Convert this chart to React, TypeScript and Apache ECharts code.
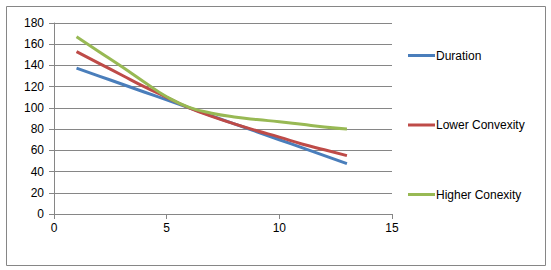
import React, { useEffect, useRef } from "react";
import * as echarts from "echarts";

const xValues = [1, 2, 3, 4, 5, 6, 7, 8, 9, 10, 11, 12, 13];
const duration = [137.5, 130, 122.5, 115, 107.5, 100, 92.5, 85, 77.5, 70, 62.5, 55, 47.5];
const lowerConvexity = [153, 142, 131, 120, 110, 100, 92, 85, 78.5, 72.5, 66, 60.5, 55];
const higherConexity = [167, 153, 139, 124.5, 110.5, 100.5, 95, 91.5, 89, 87, 84.5, 82, 80];
const seriesNames = ["Duration", "Lower Convexity", "Higher Conexity"];
const seriesColors = ["#4A7EBB", "#BE4B48", "#98B954"];

const FONT = "'Liberation Sans', Arial, sans-serif";

export default function App() {
  const ref = useRef<HTMLDivElement>(null);
  useEffect(() => {
    if (!ref.current) return;
    const chart = echarts.init(ref.current, undefined, { renderer: "svg" });
    const datasets = [duration, lowerConvexity, higherConexity];
    chart.setOption({
      animation: false,
      backgroundColor: "#ffffff",
      graphic: [
        {
          type: "rect",
          shape: { x: 6.5, y: 6.5, width: 539, height: 259 },
          style: { fill: "none", stroke: "#868686", lineWidth: 1 },
          silent: true,
        },
      ],
      grid: { left: 54, right: 159, top: 23, bottom: 56, containLabel: false },
      xAxis: {
        type: "value",
        min: 0,
        max: 15,
        interval: 5,
        axisLine: { show: true, lineStyle: { color: "#868686", width: 1 } },
        axisTick: { show: true, inside: false, length: 5, lineStyle: { color: "#868686" } },
        splitLine: { show: false },
        axisLabel: { color: "#000", fontFamily: FONT, fontSize: 12, margin: 8 },
      },
      yAxis: {
        type: "value",
        min: 0,
        max: 180,
        interval: 20,
        axisLine: { show: true, lineStyle: { color: "#868686", width: 1 } },
        axisTick: { show: true, inside: false, length: 5, lineStyle: { color: "#868686" } },
        splitLine: { show: true, lineStyle: { color: "#868686", width: 1 } },
        axisLabel: { color: "#000", fontFamily: FONT, fontSize: 12, margin: 10 },
      },
      legend: {
        orient: "vertical",
        left: 408,
        top: 49.5,
        padding: 0,
        itemWidth: 27,
        itemHeight: 3,
        itemGap: 57.5,
        icon: "rect",
        textStyle: { color: "#000", fontFamily: FONT, fontSize: 12, padding: [0, 0, 0, -4] },
        data: seriesNames,
      },
      series: datasets.map((d, i) => ({
        name: seriesNames[i],
        type: "line",
        smooth: 0.5,
        symbol: "none",
        data: xValues.map((x, j) => [x, d[j]]),
        lineStyle: { color: seriesColors[i], width: 3 },
        itemStyle: { color: seriesColors[i] },
        z: 2 + i,
      })),
    });
    return () => chart.dispose();
  }, []);
  return (
    <div style={{ position: "fixed", left: 0, top: 0 }}>
      <div ref={ref} style={{ width: 551, height: 270 }} />
    </div>
  );
}
